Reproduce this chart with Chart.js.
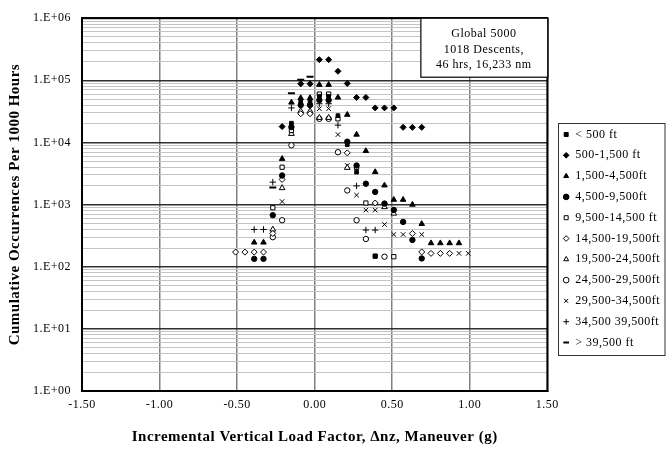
<!DOCTYPE html>
<html><head><meta charset="utf-8">
<script src="https://cdn.jsdelivr.net/npm/chart.js@4/dist/chart.umd.min.js"></script>
<style>html,body{margin:0;padding:0;background:#fff}</style>
</head><body>
<canvas id="c" width="670" height="450"></canvas>
<script>
// ---- data ----
const seriesLabels = ['< 500 ft','500-1,500 ft','1,500-4,500ft','4,500-9,500ft','9,500-14,500 ft','14,500-19,500ft','19,500-24,500ft','24,500-29,500ft','29,500-34,500ft','34,500 39,500ft','> 39,500 ft'];

const x_lt500 = [-0.15,-0.09,-0.03,0.03,0.09,0.15,0.21,0.27,0.39];
const y_lt500 = [20400,45000,45000,55000,55000,27000,9250,3330,148];

const x_500 = [-0.21,-0.09,-0.03,0.03,0.09,0.15,0.21,0.27,0.33,0.39,0.45,0.51,0.57,0.63,0.69];
const y_500 = [18000,88000,88000,215000,215000,140000,89000,53000,53000,36000,36000,36000,17500,17500,17500];

const x_1500 = [-0.39,-0.33,-0.21,-0.15,-0.09,-0.03,0.03,0.09,0.15,0.21,0.27,0.33,0.39,0.45,0.51,0.57,0.63,0.69,0.75,0.81,0.87,0.93];
const y_1500 = [246,246,5460,44000,52000,52000,85000,85000,53000,28000,13400,7300,3350,2040,1200,1200,1000,490,240,240,240,240];

const x_4500 = [-0.39,-0.33,-0.27,-0.21,-0.15,-0.09,-0.03,0.03,0.09,0.21,0.27,0.33,0.39,0.45,0.51,0.57,0.63,0.69];
const y_4500 = [134,134,675,2940,17700,40000,40000,48000,48000,10300,4260,2170,1600,1040,820,527,270,136];

const x_9500 = [-0.27,-0.21,-0.15,0.03,0.09,0.15,0.27,0.33,0.39,0.51];
const y_9500 = [890,4000,15600,60000,60000,24000,3980,1060,148,145];

const x_14500 = [-0.51,-0.45,-0.39,-0.33,-0.27,-0.21,-0.09,-0.03,0.21,0.39,0.63,0.69,0.75,0.81,0.87];
const y_14500 = [172,172,172,172,343,2540,29000,29000,6800,1060,343,173,164,164,164];

const x_19500 = [-0.27,-0.21,-0.15,-0.09,-0.03,0.03,0.09,0.21,0.45,0.51];
const y_19500 = [398,1850,13800,32000,32000,25000,25000,3920,915,720];

const x_24500 = [-0.27,-0.21,-0.15,0.03,0.09,0.15,0.21,0.27,0.33,0.45];
const y_24500 = [299,560,9000,24000,24000,6970,1690,560,280,145];

const x_29500 = [-0.21,0.03,0.09,0.15,0.21,0.27,0.33,0.39,0.45,0.51,0.57,0.69,0.93,0.99];
const y_29500 = [1120,35000,35000,13400,4260,1420,815,815,480,330,330,330,164,164];

const x_34500 = [-0.39,-0.33,-0.27,-0.15,0.03,0.09,0.15,0.27,0.33,0.39];
const y_34500 = [398,398,2300,36000,42000,42000,19000,2000,390,390];

const x_39500 = [-0.27,-0.15,-0.09,-0.03];
const y_39500 = [1890,62000,102000,114000];

const xTickValues = [-1.5,-1.0,-0.5,0.0,0.5,1.0,1.5];
const xTickLabels = ['-1.50','-1.00','-0.50','0.00','0.50','1.00','1.50'];
const yDecades = [1,10,100,1000,10000,100000,1000000];
const yTickLabels = ['1.E+00','1.E+01','1.E+02','1.E+03','1.E+04','1.E+05','1.E+06'];
const yMinorMultipliers = [2,3,4,5,6,7,8,9];
const noteLines = ['Global 5000','1018 Descents,','46 hrs, 16,233 nm'];
const xTitle = 'Incremental Vertical Load Factor, \u0394nz, Maneuver (g)';
const yTitle = 'Cumulative Occurrences Per 1000 Hours';

// ---- build ----
const seriesX = [x_lt500,x_500,x_1500,x_4500,x_9500,x_14500,x_19500,x_24500,x_29500,x_34500,x_39500];
const seriesY = [y_lt500,y_500,y_1500,y_4500,y_9500,y_14500,y_19500,y_24500,y_29500,y_34500,y_39500];
const markerStyles = [
  {ps:'rect', fill:'#000', r:2.6, bw:1},
  {ps:'rectRot', fill:'#000', r:3, bw:1},
  {ps:'triangle', fill:'#000', r:3.2, bw:1},
  {ps:'circle', fill:'#000', r:2.7, bw:1},
  {ps:'rect', fill:'#fff', r:3, bw:1},
  {ps:'rectRot', fill:'#fff', r:3, bw:1},
  {ps:'triangle', fill:'#fff', r:3.3, bw:1},
  {ps:'circle', fill:'#fff', r:2.7, bw:1},
  {ps:'crossRot', fill:'#000', r:3.2, bw:1},
  {ps:'cross', fill:'#000', r:3.2, bw:1},
  {ps:'line', fill:'#000', r:3.5, bw:2}
];
const datasets = seriesLabels.map((lab,i)=>({
  label: lab,
  data: seriesX[i].map((x,j)=>({x:x, y:seriesY[i][j]})),
  pointStyle: markerStyles[i].ps,
  backgroundColor: markerStyles[i].fill,
  borderColor: '#000',
  borderWidth: markerStyles[i].bw,
  pointRadius: markerStyles[i].r,
  pointHoverRadius: markerStyles[i].r,
  showLine: false
}));
const yTickValues = [];
yDecades.forEach((d,i)=>{ yTickValues.push(d); if(i<yDecades.length-1) yMinorMultipliers.forEach(m=>yTickValues.push(d*m)); });
const isDecade = v => Math.abs(Math.log10(v) - Math.round(Math.log10(v))) < 1e-9;
const SERIF = "'Liberation Serif', 'Times New Roman', serif";

const setSpacing = chart => { if ('letterSpacing' in chart.ctx) chart.ctx.letterSpacing = '0.5px'; };

const framePlugin = {
  id:'frame',
  beforeUpdate(chart){ setSpacing(chart); },
  beforeLayout(chart){ setSpacing(chart); },
  afterLayout(chart){
    const lg = chart.legend; if(!lg) return;
    lg.left += 7; lg.right += 7; lg.top += 5; lg.bottom += 5;
  },
  beforeDraw(chart){ setSpacing(chart); },
  beforeDatasetsDraw(chart){
    const {ctx, chartArea:a} = chart;
    ctx.save(); ctx.strokeStyle='#000'; ctx.lineWidth=2;
    ctx.strokeRect(a.left, a.top, a.right-a.left, a.bottom-a.top);
    ctx.restore();
  },
  afterDraw(chart){
    const {ctx, chartArea:a} = chart;
    ctx.save();
    // note box
    const bw=127, bh=59, bx=a.right-bw, by=a.top;
    ctx.fillStyle='#fff'; ctx.fillRect(bx,by,bw,bh);
    ctx.strokeStyle='#000'; ctx.lineWidth=1.2; ctx.strokeRect(bx+0.5,by,bw,bh);
    ctx.fillStyle='#000'; ctx.font='12px '+SERIF; ctx.textAlign='center'; ctx.textBaseline='middle';
    noteLines.forEach((t,i)=>ctx.fillText(t, bx+bw/2, by+16+i*15.5));
    // legend frame
    const lg = chart.legend;
    if(lg && lg.legendHitBoxes && lg.legendHitBoxes.length){
      let l=1e9,t=1e9,r=-1e9,b=-1e9;
      lg.legendHitBoxes.forEach(h=>{l=Math.min(l,h.left);t=Math.min(t,h.top);r=Math.max(r,h.left+h.width);b=Math.max(b,h.top+h.height);});
      const fl = Math.round(l-5)+0.5, fr = Math.max(Math.round(r+5), fl+105);
      ctx.strokeStyle='#333'; ctx.lineWidth=1;
      ctx.strokeRect(fl, Math.round(t-5)+0.5, fr-fl, Math.round(b-t+12));
    }
    ctx.restore();
  }
};

new Chart(document.getElementById('c'), {
  type:'scatter',
  data:{datasets},
  plugins:[framePlugin],
  options:{
    responsive:false, animation:false,
    layout:{padding:{left:0, top:17, right:7, bottom:0}},
    plugins:{
      tooltip:{enabled:false},
      legend:{
        position:'right', align:'center',
        labels:{usePointStyle:true, boxWidth:6, boxHeight:4, padding:8.8, color:'#000', font:{family:SERIF, size:12}}
      }
    },
    scales:{
      x:{
        type:'linear', min:-1.5, max:1.5,
        afterBuildTicks:s=>{ s.ticks = xTickValues.map(v=>({value:v})); },
        afterFit:s=>{ s.height = 59; },
        ticks:{autoSkip:false, maxRotation:0, padding:7, color:'#000', font:{family:SERIF, size:12},
          callback:(v)=>{ const i = xTickValues.findIndex(t=>Math.abs(t-v)<1e-9); return i>=0 ? xTickLabels[i] : ''; }},
        grid:{color:'#808080', lineWidth:1.5, drawTicks:false},
        border:{color:'#000', width:2},
        title:{display:true, text:xTitle, color:'#000', font:{family:SERIF, size:15, weight:'bold'}, padding:{top:4,bottom:4}}
      },
      y:{
        type:'logarithmic', min:1, max:1000000,
        afterBuildTicks:s=>{ s.ticks = yTickValues.map(v=>({value:v, major:isDecade(v)})); },
        afterFit:s=>{ s.width = 82; },
        ticks:{autoSkip:false, padding:11, color:'#000', font:{family:SERIF, size:12},
          callback:(v)=>{ const i = yDecades.findIndex(d=>Math.abs(d-v)<1e-6*d); return i>=0 ? yTickLabels[i] : ''; }},
        grid:{drawTicks:false,
          color:ctx=> (ctx.tick && isDecade(ctx.tick.value)) ? '#303030' : '#c4c4c4',
          lineWidth:ctx=> (ctx.tick && isDecade(ctx.tick.value)) ? 1.5 : 1},
        border:{color:'#000', width:2},
        title:{display:true, text:yTitle, color:'#000', font:{family:SERIF, size:15, weight:'bold'}, padding:{top:6,bottom:4}}
      }
    }
  }
});
</script>
</body></html>
